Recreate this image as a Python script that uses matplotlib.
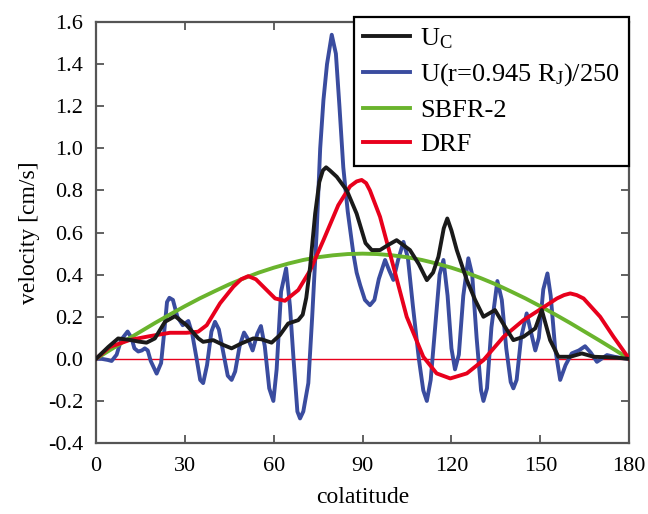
import numpy as np
import matplotlib
matplotlib.use("Agg")
import matplotlib.pyplot as plt

plt.rcParams['font.family'] = ['Liberation Serif', 'DejaVu Serif']
plt.rcParams['mathtext.fontset'] = 'custom'
plt.rcParams['mathtext.rm'] = 'Liberation Serif'
plt.rcParams['mathtext.it'] = 'Liberation Serif:italic'
plt.rcParams['axes.unicode_minus'] = False

# U_C (black)
uc_x = [0, 4.2, 7.5, 11.5, 14.5, 17.1, 19.9, 23.3, 26.7, 30.6, 34.6, 36.2, 39.6, 43.0,
        45.8, 49.2, 53.1, 55.9, 59.3, 62.1, 64.9, 68.3, 69.8, 71.0, 72.3, 74.0, 75.4,
        76.6, 77.7, 79.0, 81.3, 84.7, 88.0, 89.5, 91.0, 93.1, 95.9, 98.5, 101.5, 106.0,
        109.0, 111.7, 113.8, 115.6, 117.4, 118.6, 120.0, 121.8, 125.2, 128.0, 130.8,
        134.7, 138.1, 140.9, 144.3, 148.3, 150.5, 153.3, 156.1, 160.1, 164.0, 168.0,
        172.0, 176.0, 180]
uc_y = [0.0, 0.057, 0.097, 0.09, 0.082, 0.077, 0.097, 0.176, 0.203, 0.16, 0.097, 0.081,
        0.089, 0.066, 0.05, 0.074, 0.097, 0.093, 0.077, 0.113, 0.168, 0.184, 0.21,
        0.29, 0.437, 0.69, 0.84, 0.895, 0.91, 0.895, 0.865, 0.80, 0.69, 0.62, 0.55,
        0.517, 0.517, 0.54, 0.564, 0.517, 0.45, 0.374, 0.41, 0.485, 0.62, 0.667, 0.61,
        0.517, 0.374, 0.28, 0.2, 0.232, 0.152, 0.089, 0.105, 0.145, 0.232, 0.089, 0.01,
        0.01, 0.026, 0.01, 0.008, 0.005, 0.0]

# U(r=0.945 R_J)/250 (blue)
ur_x = [0, 2, 4, 5.3, 7, 8.5, 10.7, 12, 13, 14.3, 15.5, 16.5, 17.5, 18.5, 20.5, 22, 23,
        24, 24.8, 26, 27.5, 29.3, 31.2, 32.5, 34, 35.2, 36.2, 37.5, 39, 40.2, 41.5, 43,
        44.5, 45.8, 47, 48.5, 50, 51.5, 52.9, 54.5, 55.7, 57, 58.5, 59.9, 61, 62.5,
        64.2, 65.5, 66.7, 68, 68.9, 70, 71.7, 73, 74.5, 75.7, 76.8, 78, 79.6, 81, 82.2,
        83.5, 85, 86.9, 88, 89.2, 90.8, 92.5, 94, 95.5, 97.6, 99, 100.4, 102, 103.8,
        105.3, 107, 109, 110.5, 111.7, 113, 114.5, 116, 117.3, 118.7, 120, 121.2, 122.5,
        124, 125.7, 127, 128.5, 130, 130.8, 132, 133.5, 135.5, 137, 138.5, 140, 140.9,
        142, 143.5, 145.4, 146.8, 148.3, 149.5, 151, 152.4, 153.5, 155, 156.7, 158.5,
        160.6, 163, 165.1, 167, 169.1, 172.5, 175, 177, 180]
ur_y = [0.0, 0.0, -0.005, -0.01, 0.02, 0.09, 0.13, 0.10, 0.05, 0.035, 0.04, 0.05, 0.04,
        -0.01, -0.07, -0.02, 0.12, 0.27, 0.29, 0.28, 0.2, 0.16, 0.18, 0.12, 0.0, -0.1,
        -0.115, -0.03, 0.13, 0.176, 0.14, 0.03, -0.08, -0.10, -0.06, 0.06, 0.125, 0.09,
        0.04, 0.12, 0.156, 0.06, -0.14, -0.20, -0.05, 0.32, 0.43, 0.25, 0.0, -0.25,
        -0.283, -0.25, -0.115, 0.2, 0.6, 1.0, 1.23, 1.4, 1.54, 1.45, 1.2, 0.91, 0.70,
        0.50, 0.41, 0.35, 0.28, 0.255, 0.28, 0.38, 0.47, 0.42, 0.375, 0.47, 0.556, 0.48,
        0.25, 0.0, -0.15, -0.20, -0.1, 0.15, 0.4, 0.47, 0.3, 0.05, -0.05, 0.02, 0.3,
        0.478, 0.4, 0.1, -0.15, -0.20, -0.14, 0.15, 0.37, 0.28, 0.05, -0.11, -0.14, -0.1,
        0.1, 0.216, 0.13, 0.04, 0.1, 0.33, 0.406, 0.3, 0.05, -0.10, -0.03, 0.026, 0.04,
        0.06, 0.03, -0.014, 0.018, 0.01, 0.005, 0.0]

# SBFR-2 (green)
sb_x = [0, 5, 10, 15, 20, 25, 30, 35, 40, 45, 50, 55, 60, 65, 70, 75, 80, 85, 90,
        95, 100, 105, 110, 115, 120, 125, 130, 135, 140, 145, 150, 155, 160, 165, 170,
        175, 180]
sb_y = [0.0, 0.044, 0.087, 0.129, 0.171, 0.211, 0.25, 0.287, 0.321, 0.354, 0.383, 0.41,
        0.433, 0.453, 0.47, 0.483, 0.492, 0.498, 0.5, 0.498, 0.492, 0.483, 0.47, 0.453,
        0.433, 0.41, 0.383, 0.354, 0.321, 0.287, 0.25, 0.211, 0.171, 0.129, 0.087,
        0.044, 0.0]

# DRF (red)
drf_x = [0, 4.7, 11.5, 18.2, 25, 30.6, 34.5, 37.4, 41.9, 46.4, 49.0, 51.4, 54.0, 56.5,
         60.5, 63.8, 68.3, 72.3, 76.8, 81.8, 85.8, 88.0, 89.7, 91.2, 92.5, 95.9, 100.4,
         104.9, 110.5, 115.0, 119.6, 125.2, 130.8, 137.6, 144.3, 150.5, 155.6, 158.0,
         160.1, 162.3, 164.6, 170.2, 174.7, 180]
drf_y = [0.0, 0.057, 0.09, 0.108, 0.124, 0.124, 0.129, 0.16, 0.264, 0.343, 0.378, 0.393,
         0.378, 0.343, 0.287, 0.276, 0.327, 0.42, 0.564, 0.73, 0.82, 0.843, 0.85, 0.835,
         0.80, 0.675, 0.44, 0.2, 0.01, -0.069, -0.093, -0.069, -0.006, 0.105, 0.184,
         0.24, 0.287, 0.303, 0.311, 0.303, 0.287, 0.2, 0.105, 0.0]

fig = plt.figure(figsize=(6.48, 5.14), dpi=100)
ax = fig.add_axes([0.148, 0.138, 0.823, 0.819])

ax.axhline(0, color='#e8001c', lw=1.0, zorder=1)
ax.plot(uc_x, uc_y, color='#1a1a1a', lw=2.8, label=r'U$_\mathrm{C}$', zorder=4)
ax.plot(ur_x, ur_y, color='#3a4c9f', lw=2.8, label=r'U(r=0.945 R$_\mathrm{J}$)/250', zorder=2)
ax.plot(sb_x, sb_y, color='#6ab42d', lw=2.8, label='SBFR-2', zorder=3)
ax.plot(drf_x, drf_y, color='#e8001c', lw=2.8, label='DRF', zorder=3)

ax.set_xlim(0, 180)
ax.set_ylim(-0.4, 1.6)
ax.set_xticks(np.arange(0, 181, 30))
ax.set_yticks(np.arange(-0.4, 1.61, 0.2))
ax.set_yticklabels(['%.1f' % v for v in np.arange(-0.4, 1.61, 0.2)])
ax.tick_params(direction='in', top=True, right=True, length=6, width=1.3,
               color='#555555', labelsize=16)
ax.tick_params(axis='y', pad=9)
ax.tick_params(axis='x', pad=10)
for s in ax.spines.values():
    s.set_color('#555555')
    s.set_linewidth(1.6)

ax.set_xlabel('colatitude', fontsize=17, labelpad=8)
ax.set_ylabel('velocity [cm/s]', fontsize=17, labelpad=6)

leg = ax.legend(loc='upper right', bbox_to_anchor=(1.0, 1.012), fontsize=19,
                frameon=True, fancybox=False, handlelength=1.8, handletextpad=0.38,
                borderpad=0.35, labelspacing=0.4, borderaxespad=0.0)
leg.get_frame().set_edgecolor('black')
leg.get_frame().set_linewidth(1.6)
leg.get_frame().set_alpha(1.0)

plt.savefig('out.png', dpi=100)
